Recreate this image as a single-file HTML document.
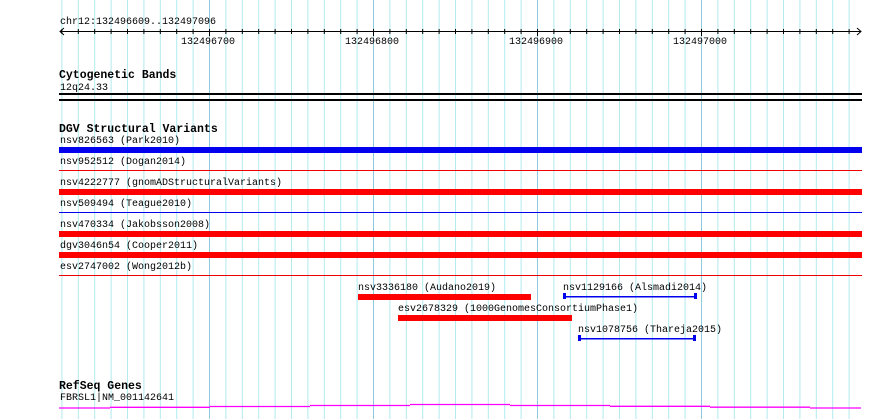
<!DOCTYPE html>
<html><head><meta charset="utf-8"><style>
html,body{margin:0;padding:0;background:#fff;}
svg{display:block;}
text{font-family:"Liberation Mono","DejaVu Sans Mono",monospace;font-size:10px;fill:#000;}
.b{font-weight:bold;font-size:11.5px;}
</style></head><body>
<svg width="890" height="419" viewBox="0 0 890 419" xmlns="http://www.w3.org/2000/svg">
<rect width="890" height="419" fill="#fff"/>
<path stroke="#b2eaee" stroke-width="1" fill="none" d="M61.9 0V419M78.3 0V419M94.7 0V419M111.1 0V419M127.5 0V419M143.9 0V419M160.3 0V419M176.7 0V419M193.1 0V419M225.9 0V419M242.3 0V419M258.7 0V419M275.1 0V419M291.5 0V419M307.9 0V419M324.3 0V419M340.7 0V419M357.1 0V419M389.9 0V419M406.3 0V419M422.7 0V419M439.1 0V419M455.5 0V419M471.9 0V419M488.3 0V419M504.7 0V419M521.1 0V419M553.9 0V419M570.3 0V419M586.7 0V419M603.1 0V419M619.5 0V419M635.9 0V419M652.3 0V419M668.7 0V419M685.1 0V419M717.9 0V419M734.3 0V419M750.7 0V419M767.1 0V419M783.5 0V419M799.9 0V419M816.3 0V419M832.7 0V419M849.1 0V419"/>
<path stroke="#8fcbe0" stroke-width="1" fill="none" d="M209.5 0V419M373.5 0V419M537.5 0V419M701.5 0V419"/>
<path stroke="#000" stroke-width="1" fill="none" d="M61.9 29V34M78.3 29V34M94.7 29V34M111.1 29V34M127.5 29V34M143.9 29V34M160.3 29V34M176.7 29V34M193.1 29V34M225.9 29V34M242.3 29V34M258.7 29V34M275.1 29V34M291.5 29V34M307.9 29V34M324.3 29V34M340.7 29V34M357.1 29V34M389.9 29V34M406.3 29V34M422.7 29V34M439.1 29V34M455.5 29V34M471.9 29V34M488.3 29V34M504.7 29V34M521.1 29V34M553.9 29V34M570.3 29V34M586.7 29V34M603.1 29V34M619.5 29V34M635.9 29V34M652.3 29V34M668.7 29V34M685.1 29V34M717.9 29V34M734.3 29V34M750.7 29V34M767.1 29V34M783.5 29V34M799.9 29V34M816.3 29V34M832.7 29V34M849.1 29V34M209.5 29V36M373.5 29V36M537.5 29V36M701.5 29V36"/>
<line x1="60" y1="31.5" x2="861" y2="31.5" stroke="#000"/>
<polyline points="64,28 60,31.5 64,35" fill="none" stroke="#000"/>
<polyline points="857,28 861,31.5 857,35" fill="none" stroke="#000"/>
<text x="60" y="24">chr12:132496609..132497096</text>
<text x="181" y="44">132496700</text>
<text x="345" y="44">132496800</text>
<text x="509" y="44">132496900</text>
<text x="673" y="44">132497000</text>
<text class="b" x="59" y="78">Cytogenetic Bands</text>
<text x="60" y="90">12q24.33</text>
<rect x="59" y="93" width="803" height="2" fill="#000"/>
<rect x="59" y="99" width="803" height="2" fill="#000"/>
<text class="b" x="59" y="132">DGV Structural Variants</text>
<text x="60" y="143">nsv826563 (Park2010)</text>
<rect x="59" y="147" width="803" height="6" fill="#0000ee"/>
<text x="60" y="164">nsv952512 (Dogan2014)</text>
<rect x="59" y="170" width="803" height="1" fill="#e00"/>
<text x="60" y="185">nsv4222777 (gnomADStructuralVariants)</text>
<rect x="59" y="189" width="803" height="6" fill="#f00"/>
<text x="60" y="206">nsv509494 (Teague2010)</text>
<rect x="59" y="212" width="803" height="1" fill="#00e"/>
<text x="60" y="227">nsv470334 (Jakobsson2008)</text>
<rect x="59" y="231" width="803" height="6" fill="#f00"/>
<text x="60" y="248">dgv3046n54 (Cooper2011)</text>
<rect x="59" y="252" width="803" height="6" fill="#f00"/>
<text x="60" y="269">esv2747002 (Wong2012b)</text>
<rect x="59" y="275" width="803" height="1" fill="#e00"/>
<text x="358" y="290">nsv3336180 (Audano2019)</text>
<rect x="358" y="294" width="173" height="6" fill="#f00"/>
<text x="563" y="290">nsv1129166 (Alsmadi2014)</text>
<rect x="564" y="296" width="133" height="1.5" fill="#00e"/>
<rect x="563" y="293" width="3" height="6" fill="#00e"/>
<rect x="694" y="293" width="3" height="6" fill="#00e"/>
<text x="398" y="311">esv2678329 (1000GenomesConsortiumPhase1)</text>
<rect x="398" y="315" width="174" height="6" fill="#f00"/>
<text x="578" y="332">nsv1078756 (Thareja2015)</text>
<rect x="579" y="338" width="116" height="1.5" fill="#00e"/>
<rect x="578" y="335" width="3" height="6" fill="#00e"/>
<rect x="693" y="335" width="3" height="6" fill="#00e"/>
<text class="b" x="59" y="389">RefSeq Genes</text>
<text x="60" y="400">FBRSL1|NM_001142641</text>
<g stroke="#f0f" stroke-width="1.3" fill="none">
<line x1="59" y1="408" x2="110" y2="408"/>
<line x1="110" y1="407.3" x2="210" y2="407.3"/>
<line x1="210" y1="406.5" x2="310" y2="406.5"/>
<line x1="310" y1="405.5" x2="410" y2="405.5"/>
<line x1="410" y1="404.5" x2="510" y2="404.5"/>
<line x1="510" y1="405.5" x2="610" y2="405.5"/>
<line x1="610" y1="406.3" x2="710" y2="406.3"/>
<line x1="710" y1="407.2" x2="810" y2="407.2"/>
<line x1="810" y1="408" x2="861" y2="408"/>
</g>
</svg>
</body></html>
